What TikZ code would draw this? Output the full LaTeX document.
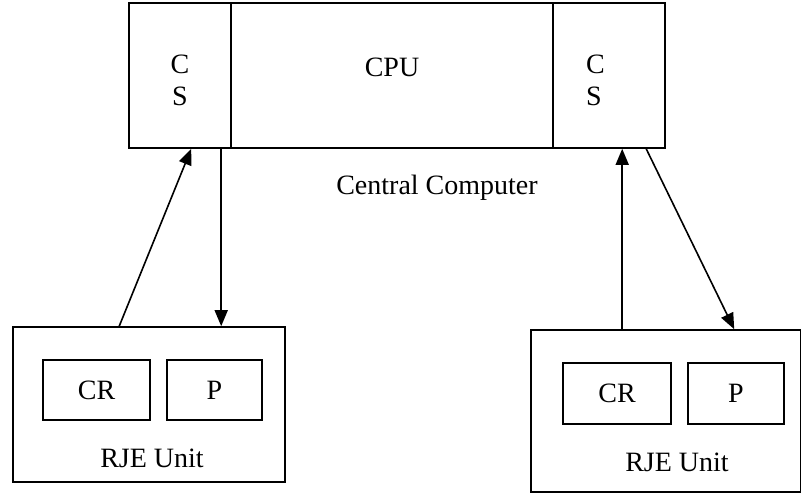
\documentclass[tikz,border=0pt]{standalone}
\usepackage{fontspec}
\setmainfont{Liberation Serif}
\usepackage{tikz}
\usetikzlibrary{shapes,arrows,positioning,calc,arrows.meta}

\tikzset{
  box/.style={draw, line width=0.8pt, inner sep=0pt, align=center},
  link/.style={line width=0.8pt, -{Triangle[length=8pt,width=6.5pt]}},
}

\begin{document}
\begin{tikzpicture}[x=0.5pt, y=-0.5pt, font=\fontsize{14}{17}\selectfont]
        \useasboundingbox (0,0) rectangle (801,494);

        % Central computer
        \node[box, minimum width=51pt, minimum height=72.5pt] (csl) at (180,75.5) {\rule{0pt}{14pt}C\\[-1.2pt]S};
        \node[box, minimum width=161pt, minimum height=72.5pt, text depth=8pt] (cpu) at (392,75.5) {CPU};
        \node[box, minimum width=56pt, minimum height=72.5pt, text width=23pt, align=left] (csr) at (609,75.5) {\rule{0pt}{14pt}C\\[-1.2pt]S};
        \node (cc) at (437,188) {Central Computer};

        % RJE units
        \node[box, minimum width=136pt, minimum height=77.5pt] (rjea) at (149,404.5) {};
        \node[box, minimum width=53.5pt, minimum height=30pt] (cra) at (96.5,390) {CR};
        \node[box, minimum width=47.5pt, minimum height=30pt] (pa) at (214.5,390) {P};
        \node (rjeatxt) at (152,458) {RJE Unit};

        \node[box, minimum width=135pt, minimum height=81pt] (rjeb) at (666,411) {};
        \node[box, minimum width=54pt, minimum height=30.5pt] (crb) at (617,393.5) {CR};
        \node[box, minimum width=48pt, minimum height=30.5pt] (pb) at (736,393.5) {P};
        \node (rjebtxt) at (677,462) {RJE Unit};

        % Links
        \draw[link] ([xshift=53.5pt]rjea.north west) -- ([xshift=31.5pt]csl.south west);
        \draw[link] ([xshift=46.5pt]csl.south west) -- ([xshift=104.5pt]rjea.north west);
        \draw[link] ([xshift=46pt]rjeb.north west) -- ([xshift=35pt]csr.south west);
        \draw[link] ([xshift=47pt]csr.south west) -- ([xshift=102pt]rjeb.north west);
    \end{tikzpicture}
\end{document}
